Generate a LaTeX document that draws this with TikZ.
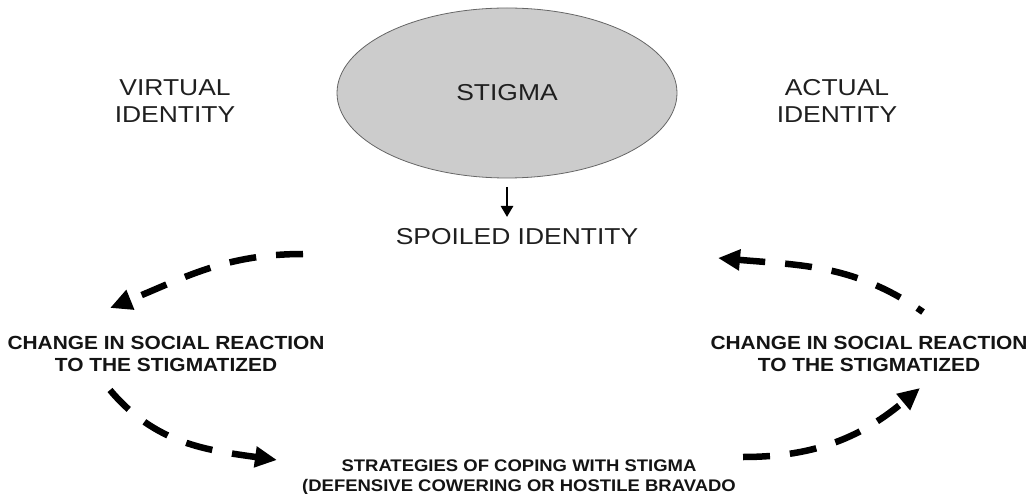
\documentclass[tikz,border=0pt]{standalone}
\usepackage{fontspec}
\usetikzlibrary{shapes.geometric,arrows.meta}
\newfontfamily\regfont[FakeStretch=1.15]{Liberation Sans}
\newfontfamily\boldfont[FakeStretch=1.1]{Liberation Sans Bold}
\begin{document}
\begin{tikzpicture}[x=1pt,y=1pt,
  plain/.style={inner sep=0pt,align=center,font=\regfont\fontsize{23}{27}\selectfont,text=black!88},
  strong/.style={inner sep=0pt,align=center,font=\boldfont\fontsize{19}{22}\selectfont,text=black!92},
  strongsmall/.style={inner sep=0pt,align=center,font=\boldfont\fontsize{16.8}{20}\selectfont,text=black!92},
  cyclearrow/.style={line width=6.5pt,dash pattern=on 27pt off 20pt,-{Triangle[length=22pt,width=20pt]}},
  smallarrow/.style={line width=2.6pt,-{Triangle[length=11pt,width=12pt]}}]
\useasboundingbox (0,0) rectangle (1030,-494);
\node[ellipse,draw=black!60,line width=0.8pt,fill=black!20,minimum width=340pt,minimum height=170pt,
  font=\regfont\fontsize{23}{27}\selectfont,text=black!88,inner sep=0pt] (stig) at (507,-93) {STIGMA};
\node[plain] (virt) at (175,-101) {VIRTUAL\\IDENTITY};
\node[plain] (act) at (837,-101) {ACTUAL\\IDENTITY};
\node[plain] (spoil) at (517,-237) {SPOILED IDENTITY};
\node[strong] (lchg) at (166,-354) {CHANGE IN SOCIAL REACTION\\TO THE STIGMATIZED};
\node[strong] (rchg) at (869,-354) {CHANGE IN SOCIAL REACTION\\TO THE STIGMATIZED};
\node[strongsmall] (strat) at (519,-477) {STRATEGIES OF COPING WITH STIGMA\\(DEFENSIVE COWERING OR HOSTILE BRAVADO};
\coordinate (s1) at (507,-187);
\coordinate (s2) at (507,-217);
\draw[smallarrow] (s1) -- (s2);
\coordinate (a1) at (303,-254);
\coordinate (a2) at (110,-308);
\coordinate (b1) at (110,-390);
\coordinate (b2) at (277,-460);
\coordinate (c1) at (743,-457);
\coordinate (c2) at (920,-388);
\coordinate (d1) at (923,-312);
\coordinate (d2) at (718,-258);
\draw[cyclearrow] (a1) to[out=180,in=22] (a2);
\draw[cyclearrow] (b1) to[out=-50,in=172] (b2);
\draw[cyclearrow] (c1) to[out=0,in=220] (c2);
\draw[cyclearrow,dash phase=20pt] (d1) to[out=145,in=-5] (d2);
\end{tikzpicture}
\end{document}
